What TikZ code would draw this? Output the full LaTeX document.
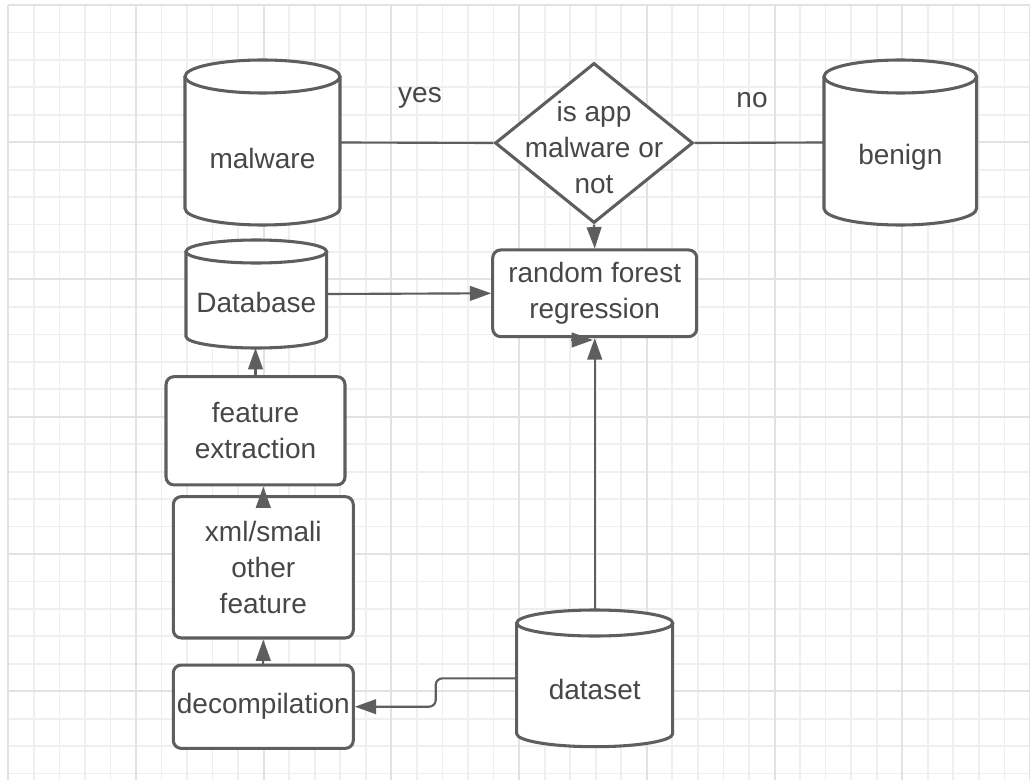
\documentclass[tikz,border=0pt]{standalone}
\usepackage{fontspec}
\setmainfont{Liberation Sans}
\usetikzlibrary{shapes.geometric,arrows.meta,calc}
\definecolor{ln}{HTML}{5E5E5E}
\definecolor{tx}{HTML}{474747}
\definecolor{gminor}{HTML}{EFEFEF}
\definecolor{gmajor}{HTML}{E2E2E2}
\tikzset{
  txt/.style={font=\fontsize{21pt}{27pt}\selectfont, text=tx, align=center, inner sep=0pt},
  box/.style={txt, draw=ln, line width=2.3pt, rounded corners=6pt, fill=white},
  cylline/.style={draw=ln, line width=2.3pt},
  anchorbox/.style={inner sep=0pt, outer sep=0pt},
  conn/.style={draw=ln, line width=1.6pt},
  arr/.style={conn, -{Triangle[length=16pt,width=11pt]}},
}
% name, cx, top, bottom, half width, ry, text, text y
\newcommand\mycyl[8]{%
  \fill[white] (#2-#5,#3+#6) -- (#2-#5,#4-#6) .. controls (#2-#5,#4-#6+0.5523*#6) and (#2-0.5523*#5,#4) .. (#2,#4) .. controls (#2+0.5523*#5,#4) and (#2+#5,#4-#6+0.5523*#6) .. (#2+#5,#4-#6) -- (#2+#5,#3+#6) -- cycle;
  \fill[white] (#2,#3+#6) ellipse [x radius=#5, y radius=#6];
  \draw[cylline] (#2-#5,#3+#6) -- (#2-#5,#4-#6) .. controls (#2-#5,#4-#6+0.5523*#6) and (#2-0.5523*#5,#4) .. (#2,#4) .. controls (#2+0.5523*#5,#4) and (#2+#5,#4-#6+0.5523*#6) .. (#2+#5,#4-#6) -- (#2+#5,#3+#6);
  \draw[cylline] (#2,#3+#6) ellipse [x radius=#5, y radius=#6];
  \node[anchorbox, minimum width={2*#5*0.75pt}, minimum height={(#4-#3)*0.75pt}] (#1) at (#2,{(#3+#4)/2}) {};
  \node[txt] (#1-text) at (#2,#8) {#7};
}
\begin{document}
\begin{tikzpicture}[x=0.75pt,y=-0.75pt]
\useasboundingbox (0,0) rectangle (1030,780);
\fill[white] (0,0) rectangle (1030,780);
% grid
\foreach \i in {0,...,40} \draw[gminor, line width=1.3pt] ({8.3+\i*25.54},5) -- ({8.3+\i*25.54},780);
\foreach \j in {0,...,28} \draw[gminor, line width=1.3pt] (8,{5+\j*27.45}) -- (1030,{5+\j*27.45});
\foreach \i in {0,5,...,40} \draw[gmajor, line width=1.5pt] ({8.3+\i*25.54},5) -- ({8.3+\i*25.54},780);
\foreach \j in {0,5,...,25} \draw[gmajor, line width=1.5pt] (8,{5+\j*27.45}) -- (1030,{5+\j*27.45});

% cylinders
\mycyl{mal}{262.5}{60}{225}{77.5}{16.5}{malware}{158}
\mycyl{ben}{900.3}{60}{225}{76.3}{16.5}{benign}{157}
\mycyl{db}{256.3}{240}{348}{70.3}{11.5}{Database}{302}
\mycyl{ds}{594.7}{610}{746.7}{78}{13}{dataset}{689}

% diamond
\node[diamond, draw=ln, line width=2.3pt, fill=white, inner sep=0pt, minimum width=148.5pt, minimum height=120pt, aspect=1.2375] (dia) at (594,143) {};
\node[txt] (diatext) at (594,147) {is app\\malware or\\not};

% boxes
\node[box, minimum width=153pt, minimum height=65pt] (rf) at (594.7,293.3) {random forest\\regression};
\node[box, minimum width=134.25pt, minimum height=81.2pt] (feat) at (255.5,430.8) {feature\\extraction};
\node[box, minimum width=135pt, minimum height=106pt] (xml) at (263.3,567.3) {xml/smali\\other\\feature};
\node[box, minimum width=135pt, minimum height=62.5pt] (dec) at (263.3,706.7) {decompilation};

% labels
\node[txt] (yes) at (420,98) {yes};
\node[txt] (no) at (752,100) {no};

% connectors
\draw[conn] (mal.east) -- (dia.west);
\draw[conn] (dia.east) -- (ben.west);
\draw[arr] (dia.south) -- (rf.north);
\draw[arr] (db.east) -- (rf.west);
\draw[arr] (ds.north) -- (rf.south);
\draw[arr] (feat.north) -- (feat.north |- db.south);
\draw[arr] (xml.north) -- (xml.north |- feat.south);
\draw[arr] (dec.north) -- (xml.south);
\draw[arr, rounded corners=5pt] (ds.west) -- ++(-81,0) |- (dec.east);
\coordinate (stray) at (571,340);
\draw[arr] (stray) -- ++(22,0);
\end{tikzpicture}
\end{document}
